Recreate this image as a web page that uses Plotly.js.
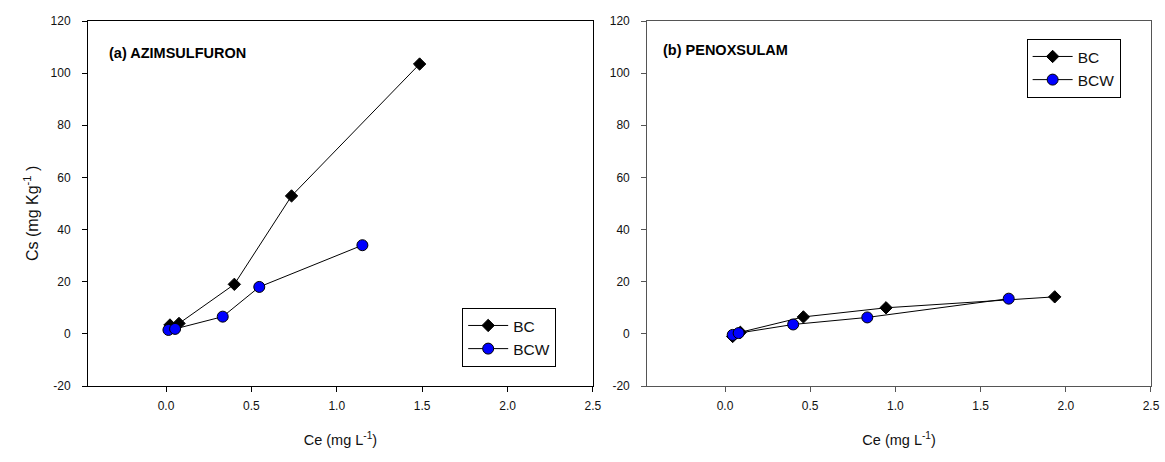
<!DOCTYPE html>
<html>
<head>
<meta charset="utf-8">
<script src="https://cdn.plot.ly/plotly-3.0.1.min.js"></script>
<style>html,body{margin:0;padding:0;background:#fff;}#chart{width:1165px;height:462px;}</style>
</head>
<body>
<div id="chart"></div>
<script>
// (a) AZIMSULFURON
const azimBC_x  = [0.023, 0.076, 0.40, 0.735, 1.485];
const azimBC_y  = [3.4, 4.0, 19.0, 52.9, 103.5];
const azimBCW_x = [0.014, 0.053, 0.332, 0.546, 1.15];
const azimBCW_y = [1.5, 1.9, 6.6, 18.0, 34.0];
// (b) PENOXSULAM
const penoBC_x  = [0.045, 0.09, 0.46, 0.945, 1.935];
const penoBC_y  = [-1.0, 0.6, 6.5, 10.0, 14.2];
const penoBCW_x = [0.045, 0.08, 0.40, 0.835, 1.665];
const penoBCW_y = [-0.4, 0.3, 3.6, 6.3, 13.5];

const xTickVals = [0, 0.5, 1.0, 1.5, 2.0, 2.5];
const xTickText = ['0.0', '0.5', '1.0', '1.5', '2.0', '2.5'];
const yTickVals = [-20, 0, 20, 40, 60, 80, 100, 120];
const yTickText = ['-20', '0', '20', '40', '60', '80', '100', '120'];
const seriesNames = ['BC', 'BCW'];
const panelLabels = ['(a) AZIMSULFURON', '(b) PENOXSULAM'];

const FONT = 'Liberation Sans, Arial, sans-serif';

function bcTrace(x, y, xa, ya, leg) {
  return {x: x, y: y, xaxis: xa, yaxis: ya, name: seriesNames[0], legend: leg,
    type: 'scatter', mode: 'lines+markers',
    line: {color: '#000', width: 1},
    marker: {symbol: 'diamond', size: 9.5, color: '#000', line: {color: '#000', width: 1}}};
}
function bcwTrace(x, y, xa, ya, leg) {
  return {x: x, y: y, xaxis: xa, yaxis: ya, name: seriesNames[1], legend: leg,
    type: 'scatter', mode: 'lines+markers',
    line: {color: '#000', width: 1},
    marker: {symbol: 'circle', size: 11, color: '#0000FF', line: {color: '#000', width: 1}}};
}

const data = [
  bcTrace(azimBC_x, azimBC_y, 'x', 'y', 'legend'),
  bcwTrace(azimBCW_x, azimBCW_y, 'x', 'y', 'legend'),
  bcTrace(penoBC_x, penoBC_y, 'x2', 'y2', 'legend2'),
  bcwTrace(penoBCW_x, penoBCW_y, 'x2', 'y2', 'legend2')
];

function xAxis(domain, anchor, lc) {
  return {domain: domain, anchor: anchor, range: [-0.457, 2.5],
    tickvals: xTickVals, ticktext: xTickText,
    ticks: 'outside', ticklen: 5, tickcolor: lc, tickwidth: 1, ticklabelstandoff: 4,
    showline: true, linecolor: lc, linewidth: 1, mirror: true,
    showgrid: false, zeroline: false,
    tickfont: {family: FONT, size: 12, color: '#111'},
    title: {text: 'Ce (mg L<sup>-1</sup>)', font: {family: FONT, size: 14.5, color: '#111'}, standoff: 22}};
}
function yAxis(anchor, lc) {
  return {anchor: anchor, domain: [0, 1], range: [-20, 120],
    tickvals: yTickVals, ticktext: yTickText,
    ticks: 'outside', ticklen: 5, tickcolor: lc, tickwidth: 1, ticklabelstandoff: 9,
    showline: true, linecolor: lc, linewidth: 1, mirror: true,
    showgrid: false, zeroline: false,
    tickfont: {family: FONT, size: 12, color: '#111'}};
}

const legendBase = {
  bgcolor: '#fff', bordercolor: '#000', borderwidth: 1,
  font: {family: FONT, size: 15.5, color: '#111'},
  xanchor: 'left', yanchor: 'top', tracegroupgap: 0, itemwidth: 40
};

const layout = {
  width: 1165, height: 462,
  margin: {l: 88, r: 14, t: 21, b: 76},
  paper_bgcolor: '#fff', plot_bgcolor: '#fff',
  showlegend: true,
  xaxis: xAxis([0, 0.475], 'y', '#000'),
  yaxis: yAxis('x', '#000'),
  xaxis2: xAxis([0.526, 1], 'y2', '#555'),
  yaxis2: yAxis('x2', '#555'),
  legend: Object.assign({}, legendBase, {x: 0.352, y: 0.214}),
  legend2: Object.assign({}, legendBase, {x: 0.883, y: 0.951}),
  annotations: [
    {text: '<b>' + panelLabels[0] + '</b>', xref: 'paper', yref: 'paper',
     x: (107 - 88) / 1063, y: (386 - 53) / 365, xanchor: 'left', yanchor: 'middle',
     showarrow: false, font: {family: FONT, size: 14.5, color: '#000'}},
    {text: '<b>' + panelLabels[1] + '</b>', xref: 'paper', yref: 'paper',
     x: (661 - 88) / 1063, y: (386 - 50) / 365, xanchor: 'left', yanchor: 'middle',
     showarrow: false, font: {family: FONT, size: 14.5, color: '#000'}},
    {text: 'Cs (mg Kg<sup>-1</sup> )', xref: 'paper', yref: 'paper',
     x: (31 - 88) / 1063, y: (386 - 214) / 365, xanchor: 'center', yanchor: 'middle',
     textangle: -90, showarrow: false, font: {family: FONT, size: 16, color: '#111'}}
  ]
};

Plotly.newPlot('chart', data, layout, {displayModeBar: false, staticPlot: true});
</script>
</body>
</html>
